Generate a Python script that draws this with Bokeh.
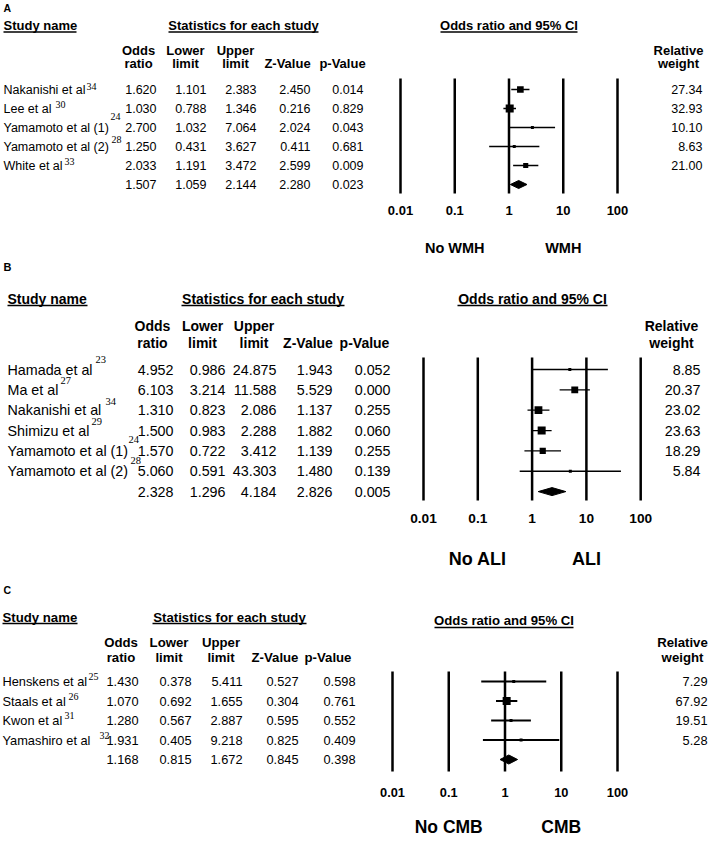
from bokeh.plotting import figure
from bokeh.models import Range1d, LogScale, LogAxis, FixedTicker, CustomJSTickFormatter
from bokeh.layouts import column
from bokeh.core.properties import value
from bokeh.embed import file_html
from bokeh.resources import INLINE

# ---------------- data ----------------
TICKS = [0.01, 0.1, 1, 10, 100]
TICK_LABELS = ["0.01", "0.1", "1", "10", "100"]

A_studies = ["Nakanishi et al", "Lee et al", "Yamamoto et al (1)", "Yamamoto et al (2)", "White et al"]
A_refs = ["34", "30", "24", "28", "33"]
A_or = [1.620, 1.030, 2.700, 1.250, 2.033]
A_lower = [1.101, 0.788, 1.032, 0.431, 1.191]
A_upper = [2.383, 1.346, 7.064, 3.627, 3.472]
A_z = [2.450, 0.216, 2.024, 0.411, 2.599]
A_p = [0.014, 0.829, 0.043, 0.681, 0.009]
A_weight = [27.34, 32.93, 10.10, 8.63, 21.00]
A_pooled = [1.507, 1.059, 2.144, 2.280, 0.023]
A_groups = ["No WMH", "WMH"]

B_studies = ["Hamada et al", "Ma et al", "Nakanishi et al", "Shimizu et al", "Yamamoto et al (1)", "Yamamoto et al (2)"]
B_refs = ["23", "27", "34", "29", "24", "28"]
B_or = [4.952, 6.103, 1.310, 1.500, 1.570, 5.060]
B_lower = [0.986, 3.214, 0.823, 0.983, 0.722, 0.591]
B_upper = [24.875, 11.588, 2.086, 2.288, 3.412, 43.303]
B_z = [1.943, 5.529, 1.137, 1.882, 1.139, 1.480]
B_p = [0.052, 0.000, 0.255, 0.060, 0.255, 0.139]
B_weight = [8.85, 20.37, 23.02, 23.63, 18.29, 5.84]
B_pooled = [2.328, 1.296, 4.184, 2.826, 0.005]
B_groups = ["No ALI", "ALI"]

C_studies = ["Henskens et al", "Staals et al", "Kwon et al", "Yamashiro et al"]
C_refs = ["25", "26", "31", "32"]
C_or = [1.430, 1.070, 1.280, 1.931]
C_lower = [0.378, 0.692, 0.567, 0.405]
C_upper = [5.411, 1.655, 2.887, 9.218]
C_z = [0.527, 0.304, 0.595, 0.825]
C_p = [0.598, 0.761, 0.552, 0.409]
C_weight = [7.29, 67.92, 19.51, 5.28]
C_pooled = [1.168, 0.815, 1.672, 0.845, 0.398]
C_groups = ["No CMB", "CMB"]

# ---------------- layout ----------------
SANS = "Liberation Sans"
SERIF = "Liberation Serif"
W = 709

A_CFG = dict(letter="A", height=258, top=0, frame_bottom=195,
             letter_pos=(3, 7), letter_size=10.5,
             head_y=25, ul_y=31.5, ci_y=25, ci_ul=31.5, head_size=13,
             study_head=(3, 76), stats_head=(168, 318), ci_head=(440, 577),
             col_head_y=(50, 63), col_head_x=[138, 185, 235, 287, 342], weight_head_x=678,
             body_size=12.5, name_x=3, num_right=[156, 206, 256, 310, 363], weight_right=702,
             row0=89, row_step=19,
             sup_pos=[(86, 86), (55, 104), (110, 116), (111, 139), (64, 161)], sup_size=10,
             fx0=400, decade=54.25, line_top=78, line_bottom=193,
             tick_size=13, tick_standoff=10, group_size=14.5, group_standoff=22,
             box_max=8, ci_width=1.5, dia_h=4)

B_CFG = dict(letter="B", height=317, top=258, frame_bottom=503,
             letter_pos=(3, 266), letter_size=11,
             head_y=298, ul_y=305, ci_y=298, ci_ul=305, head_size=14,
             study_head=(7, 87), stats_head=(181, 344), ci_head=(457, 607),
             col_head_y=(325, 342), col_head_x=[152, 202, 253.5, 307.5, 364], weight_head_x=671,
             body_size=14.3, name_x=7, num_right=[173, 225, 276, 332, 390], weight_right=700,
             row0=369, row_step=20.35,
             sup_pos=[(95, 359), (60, 380), (105, 401), (91, 421), (128, 439), (130, 460)], sup_size=10.5,
             fx0=423, decade=54.3, line_top=357, line_bottom=500,
             tick_size=13.7, tick_standoff=10, group_size=18, group_standoff=23,
             box_max=8, ci_width=1.3, dia_h=4)

C_CFG = dict(letter="C", height=269, top=575, frame_bottom=774,
             letter_pos=(3, 589.5), letter_size=10.5,
             head_y=616.5, ul_y=623, ci_y=620, ci_ul=627, head_size=13.2,
             study_head=(2, 77), stats_head=(152, 306), ci_head=(434, 573),
             col_head_y=(642, 657), col_head_x=[120.5, 168.5, 220.5, 274.5, 327.5], weight_head_x=682,
             body_size=12.8, name_x=2, num_right=[138, 191, 242, 298, 355], weight_right=707,
             row0=681, row_step=19.5,
             sup_pos=[(88, 676), (68, 696), (64, 715), (99, 735)], sup_size=10,
             fx0=392, decade=56.25, line_top=671, line_bottom=771,
             tick_size=12.8, tick_standoff=13, group_size=17.5, group_standoff=17,
             box_max=8, ci_width=2, dia_h=4.5)

COL_HEADS = [("Odds", "ratio"), ("Lower", "limit"), ("Upper", "limit"), ("", "Z-Value"), ("", "p-Value")]


def make_panel(c, studies, refs, ors, lows, ups, zs, ps, weights, pooled, groups):
    H = c["height"]
    top = c["top"]

    def ly(r):
        return r - top

    def lx(r):
        return r

    fb = ly(c["frame_bottom"])
    p = figure(width=W, height=H, x_range=Range1d(0, W), y_range=Range1d(fb, 0),
               output_backend="svg", toolbar_location=None,
               x_axis_location=None, y_axis_location=None,
               min_border_left=0, min_border_right=0, min_border_top=0,
               min_border_bottom=H - fb,
               outline_line_color=None, background_fill_color="white",
               border_fill_color="white")
    p.grid.grid_line_color = None

    x0 = lx(c["fx0"])
    dec = c["decade"]
    p.extra_x_ranges = {"or": Range1d(start=10 ** (-2 - x0 / dec), end=10 ** (-2 + (W - x0) / dec))}
    p.extra_x_scales = {"or": LogScale()}

    n = len(studies)
    rows_y = [ly(c["row0"] + i * c["row_step"]) for i in range(n)]
    pool_y = ly(c["row0"] + n * c["row_step"])

    def txt(x, y, t, size, bold=False, align="left", font=SANS):
        p.text(x=x, y=y, text=t, text_font=value(font), text_font_size=value(f"{size}px"),
               text_font_style="bold" if bold else "normal", text_align=align,
               text_baseline="middle", text_color="black")

    # panel letter
    txt([lx(c["letter_pos"][0])], [ly(c["letter_pos"][1])], [c["letter"]], c["letter_size"], True)

    # underlined section titles
    hs = c["head_size"]
    sx0, sx1 = c["study_head"]
    txt([lx(sx0)], [ly(c["head_y"])], ["Study name"], hs, True)
    tx0, tx1 = c["stats_head"]
    txt([lx((tx0 + tx1) / 2)], [ly(c["head_y"])], ["Statistics for each study"], hs, True, "center")
    cx0, cx1 = c["ci_head"]
    txt([lx((cx0 + cx1) / 2)], [ly(c["ci_y"])], ["Odds ratio and 95% CI"], hs, True, "center")
    p.segment(x0=[lx(sx0), lx(tx0), lx(cx0)], x1=[lx(sx1), lx(tx1), lx(cx1)],
              y0=[ly(c["ul_y"]), ly(c["ul_y"]), ly(c["ci_ul"])],
              y1=[ly(c["ul_y"]), ly(c["ul_y"]), ly(c["ci_ul"])],
              line_color="black", line_width=1.3)

    # column headers
    y1h, y2h = c["col_head_y"]
    for (l1, l2), hx in zip(COL_HEADS, c["col_head_x"]):
        if l1:
            txt([lx(hx)], [ly(y1h)], [l1], hs, True, "center")
        txt([lx(hx)], [ly(y2h)], [l2], hs, True, "center")
    txt([lx(c["weight_head_x"])], [ly(y1h)], ["Relative"], hs, True, "center")
    txt([lx(c["weight_head_x"])], [ly(y2h)], ["weight"], hs, True, "center")

    # study names and reference superscripts
    bs = c["body_size"]
    txt([lx(c["name_x"])] * n, rows_y, studies, bs)
    txt([lx(sx) for sx, sy in c["sup_pos"]], [ly(sy) for sx, sy in c["sup_pos"]],
        refs, c["sup_size"], font=SERIF)

    # numeric columns (studies + pooled)
    cols = [ors, lows, ups, zs, ps]
    for j, vals in enumerate(cols):
        allv = list(vals) + [pooled[j]]
        txt([lx(c["num_right"][j])] * (n + 1), rows_y + [pool_y],
            ["%.3f" % v for v in allv], bs, align="right")
    txt([lx(c["weight_right"])] * n, rows_y, ["%.2f" % w for w in weights], bs, align="right")

    # forest: reference lines at decades
    p.segment(x0=TICKS, x1=TICKS, y0=[ly(c["line_top"])] * len(TICKS),
              y1=[ly(c["line_bottom"])] * len(TICKS),
              line_color="black", line_width=2.5, x_range_name="or")
    # confidence intervals
    p.segment(x0=lows, x1=ups, y0=rows_y, y1=rows_y, line_color="black",
              line_width=c["ci_width"], x_range_name="or")
    wmax = max(weights)
    sizes = [max(3.0, c["box_max"] * w / wmax) for w in weights]
    p.scatter(x=ors, y=rows_y, size=sizes, marker="square", fill_color="black",
              line_color=None, x_range_name="or")
    # pooled diamond
    h = c["dia_h"]
    p.patch(x=[pooled[1], pooled[0], pooled[2], pooled[0]],
            y=[pool_y, pool_y - h, pool_y, pool_y + h],
            fill_color="black", line_color="black", line_width=1, x_range_name="or")

    # axes: decade labels and favouring-group labels
    ax1 = LogAxis(x_range_name="or", ticker=FixedTicker(ticks=TICKS, minor_ticks=[]),
                  formatter=CustomJSTickFormatter(args=dict(t=TICKS, l=TICK_LABELS),
                                                  code="const i = t.indexOf(tick); return i < 0 ? '' : l[i];"))
    ax2 = LogAxis(x_range_name="or", ticker=FixedTicker(ticks=[0.1, 10], minor_ticks=[]),
                  formatter=CustomJSTickFormatter(args=dict(a=groups[0], b=groups[1]),
                                                  code="return tick < 1 ? a : b;"))
    for ax, size, so in ((ax1, c["tick_size"], c["tick_standoff"]),
                         (ax2, c["group_size"], c["group_standoff"])):
        ax.axis_line_color = None
        ax.major_tick_line_color = None
        ax.minor_tick_line_color = None
        ax.major_tick_out = 0
        ax.major_tick_in = 0
        ax.minor_tick_out = 0
        ax.minor_tick_in = 0
        ax.major_label_standoff = int(round(so))
        ax.major_label_text_font = SANS
        ax.major_label_text_font_style = "bold"
        ax.major_label_text_font_size = f"{size}px"
        ax.major_label_text_color = "black"
        p.add_layout(ax, "below")
    return p


pA = make_panel(A_CFG, A_studies, A_refs, A_or, A_lower, A_upper, A_z, A_p, A_weight, A_pooled, A_groups)
pB = make_panel(B_CFG, B_studies, B_refs, B_or, B_lower, B_upper, B_z, B_p, B_weight, B_pooled, B_groups)
pC = make_panel(C_CFG, C_studies, C_refs, C_or, C_lower, C_upper, C_z, C_p, C_weight, C_pooled, C_groups)

layout = column(pA, pB, pC)
open("out.html", "w").write(file_html(layout, INLINE, "Forest plots"))
